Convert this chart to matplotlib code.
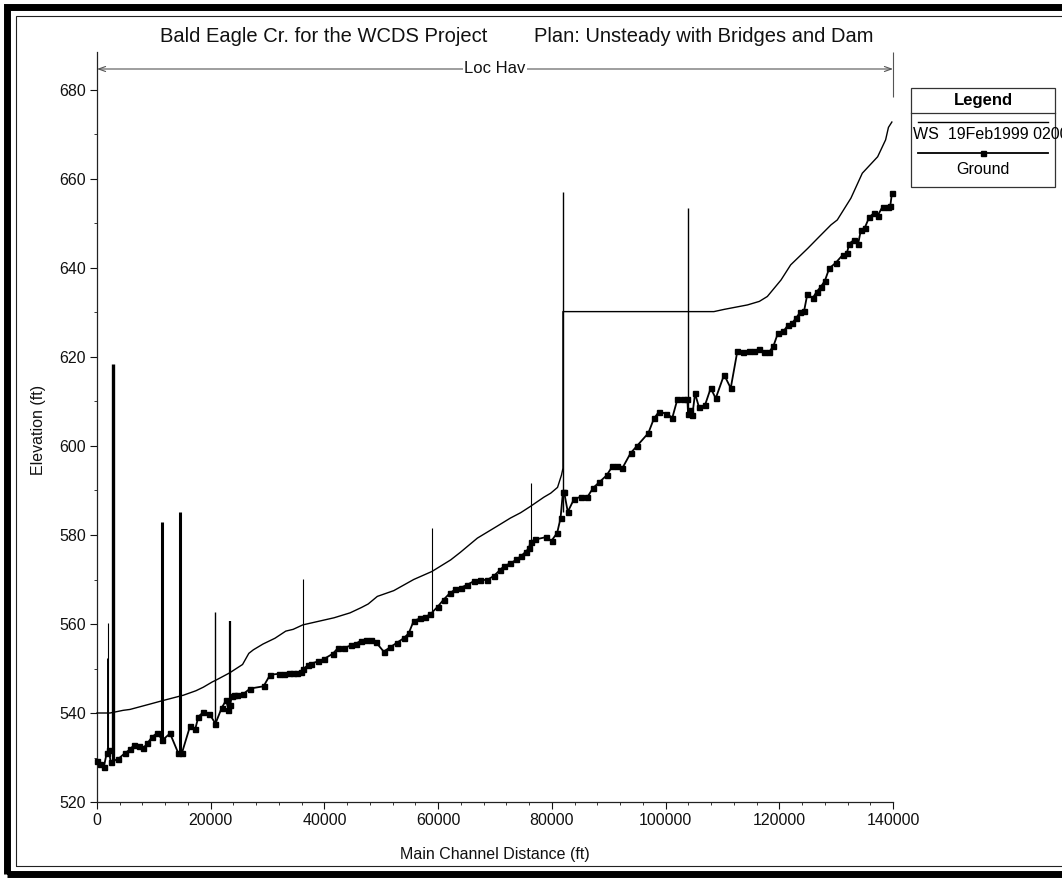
import matplotlib
matplotlib.use("Agg")
import matplotlib.pyplot as plt
from matplotlib.patches import Rectangle
from matplotlib.lines import Line2D

plt.rcParams['font.family'] = ['Liberation Sans', 'DejaVu Sans']

# ---------------- data ----------------
title_left = "Bald Eagle Cr. for the WCDS Project"
title_right = "Plan: Unsteady with Bridges and Dam"
reach_label = "Loc Hav"
x_label = "Main Channel Distance (ft)"
y_label = "Elevation (ft)"
legend_title = "Legend"
legend_labels = ["WS  19Feb1999 0200", "Ground"]

x_ticks = [0, 20000, 40000, 60000, 80000, 100000, 120000, 140000]
y_ticks = [520, 540, 560, 580, 600, 620, 640, 660, 680]

ws_x = [0, 2300, 4600, 5800, 9300, 11600, 15200, 17400, 18700, 20300,
        20800, 23300, 25600, 26700, 27500, 29200, 31300, 33200, 34500, 36200,
        41700, 44500, 46500, 47700, 49300, 52200, 55700, 58900, 62200, 63900,
        66900, 70400, 72700, 74500, 76200, 78600, 79800, 81000, 81700, 81950,
        81950, 108500, 110300, 114400, 116500, 117900, 120300, 122000, 125000, 127000,
        129100, 130200, 132600, 134600, 137300, 138700, 139200, 139800]
ws_z = [540.0, 540.0, 540.6, 540.8, 542.0, 542.8, 544.0, 545.0, 545.8, 547.0,
        547.3, 549.0, 550.9, 553.4, 554.2, 555.5, 556.8, 558.4, 558.8, 559.8,
        561.4, 562.5, 563.7, 564.5, 566.2, 567.5, 570.0, 571.8, 574.4, 576.1,
        579.3, 582.0, 583.8, 585.0, 586.4, 588.5, 589.4, 590.7, 593.5, 595.0,
        630.2, 630.2, 630.7, 631.7, 632.5, 633.6, 637.3, 640.7, 644.4, 647.0,
        649.7, 650.8, 655.7, 661.3, 665.0, 668.8, 671.6, 672.8]

ground_x = [0, 500, 1200, 1700, 2100, 2400, 3750, 4930, 5810, 6570,
            7450, 8150, 8860, 9740, 10620, 11500, 12850, 14320, 14910, 16380,
            17260, 17840, 18720, 19780, 20830, 21950, 22720, 23120, 23420, 23700,
            24100, 24600, 25650, 26940, 29290, 30460, 31930, 32810, 33690, 34500,
            35160, 35800, 36230, 37100, 37680, 38840, 40000, 41450, 42320, 43480,
            44640, 45510, 46380, 47250, 48120, 49000, 50420, 51590, 52770, 53940,
            54820, 55700, 56880, 57760, 58640, 59930, 60980, 62040, 63040, 64040,
            65100, 66380, 67440, 68620, 69790, 70840, 71670, 72720, 73780, 74610,
            75370, 75950, 76250, 77120, 78890, 79940, 80940, 81530, 81950, 82150,
            82800, 83870, 85050, 86230, 87280, 88280, 89630, 90630, 91510, 92390,
            93850, 95030, 96970, 97960, 98840, 100020, 101200, 102080, 103130, 103840,
            103950, 104300, 104720, 105180, 105880, 106940, 107940, 108820, 110290, 111460,
            112640, 113700, 114690, 115570, 116450, 117330, 118210, 118980, 119800, 120740,
            121550, 122320, 122900, 123660, 124370, 124950, 125850, 126600, 127310, 128010,
            128780, 129950, 131130, 131890, 132300, 133170, 133880, 134350, 135060, 135810,
            136700, 137280, 138170, 139050, 139520, 139810]
ground_z = [529.2, 528.6, 527.8, 531.0, 531.6, 529.0, 529.7, 531.0, 531.8, 532.9,
            532.5, 532.1, 533.2, 534.7, 535.5, 533.9, 535.4, 530.9, 530.9, 537.1,
            536.3, 539.2, 540.2, 539.8, 537.6, 541.2, 542.9, 540.6, 541.7, 543.9,
            544.0, 544.0, 544.2, 545.5, 546.0, 548.6, 548.8, 548.8, 549.0, 549.1,
            549.1, 549.3, 549.9, 550.7, 551.1, 551.6, 552.2, 553.3, 554.5, 554.6,
            555.2, 555.6, 556.2, 556.4, 556.3, 556.0, 553.8, 554.8, 555.8, 556.8,
            557.9, 560.7, 561.3, 561.6, 562.2, 563.9, 565.5, 566.9, 567.8, 568.2,
            568.8, 569.7, 569.9, 569.9, 570.8, 572.1, 573.1, 573.6, 574.5, 575.3,
            576.2, 577.0, 578.5, 579.0, 579.5, 578.7, 580.5, 583.8, 589.7, 589.7,
            585.2, 588.0, 588.6, 588.5, 590.6, 591.8, 593.4, 595.4, 595.6, 595.0,
            598.4, 600.1, 602.9, 606.2, 607.7, 607.3, 606.4, 610.5, 610.5, 610.5,
            607.3, 608.1, 607.0, 611.8, 608.7, 609.2, 613.0, 610.7, 616.0, 613.0,
            621.4, 621.1, 621.4, 621.4, 621.7, 621.1, 621.1, 622.5, 625.5, 625.8,
            627.2, 627.7, 628.7, 630.0, 630.4, 634.2, 633.2, 634.7, 635.8, 637.1,
            639.9, 641.2, 642.9, 643.3, 645.5, 646.3, 645.5, 648.5, 649.1, 651.4,
            652.4, 651.7, 653.8, 653.8, 653.9, 656.8]

# bridges / culverts / dam drawn as vertical structure lines
bridge_x = [1750, 1950, 2750, 11480, 14670, 20750, 23400, 36150, 58950, 76250, 81950, 103900]
bridge_bottom = [531.0, 531.0, 529.0, 534.0, 531.0, 537.5, 541.0, 549.8, 562.2, 578.5, 585.2, 607.3]
bridge_top = [552.3, 560.2, 618.5, 582.9, 585.2, 562.6, 560.7, 570.2, 581.5, 591.6, 657.0, 653.4]
bridge_width = [0.7, 0.8, 2.4, 2.2, 2.2, 1.0, 1.6, 0.8, 0.8, 0.8, 1.0, 1.0]

# ---------------- figure ----------------
W, H = 1062, 880
fig = plt.figure(figsize=(W / 100, H / 100), dpi=100)
fig.patch.set_facecolor('white')


def fx(px):
    return px / W


def fy(py):
    return 1 - py / H


ax_l, ax_r, ax_t, ax_b = 97, 893, 52, 802
ax = fig.add_axes([fx(ax_l), fy(ax_b), fx(ax_r - ax_l), (ax_b - ax_t) / H])
ymin = 520
ymax = 520 + (ax_b - ax_t) / 4.45
ax.set_xlim(0, 140000)
ax.set_ylim(ymin, ymax)

for s in ['top', 'right']:
    ax.spines[s].set_visible(False)
for s in ['left', 'bottom']:
    ax.spines[s].set_linewidth(0.9)
    ax.spines[s].set_color('#222222')

ax.set_xticks(x_ticks)
ax.set_xticklabels([str(v) for v in x_ticks])
ax.set_xticks(range(0, 140001, 4000), minor=True)
ax.set_yticks(y_ticks)
ax.set_yticklabels([str(v) for v in y_ticks])
ax.set_yticks(range(520, 681, 10), minor=True)
ax.tick_params(which='major', direction='out', length=5, width=0.8, labelsize=11.5, pad=3, colors='#111111')
ax.tick_params(which='minor', direction='out', length=2.5, width=0.7, colors='#333333')

# structures
ax.vlines(bridge_x, bridge_bottom, bridge_top, colors='black', linewidths=bridge_width, zorder=3)

# water surface
ax.plot(ws_x, ws_z, color='black', lw=1.0, zorder=4, clip_on=False)
# ground
ax.plot(ground_x, ground_z, color='black', lw=1.3, marker='s', markersize=3.6,
        markerfacecolor='black', markeredgecolor='black', zorder=5, clip_on=False)

# reach annotation
reach_y = 520 + (ax_b - 69) / 4.45
ax.annotate('', xy=(0, reach_y), xytext=(140000, reach_y),
            arrowprops=dict(arrowstyle='<->,head_length=0.5,head_width=0.18', color='#555555',
                            lw=0.8, shrinkA=0, shrinkB=0), annotation_clip=False)
ax.vlines([140000], 520 + (ax_b - 97) / 4.45, ymax, colors='#555555', linewidths=0.8, clip_on=False)
ax.text(70000, reach_y, reach_label, ha='center', va='center', fontsize=12, color='#111111',
        bbox=dict(facecolor='white', edgecolor='none', pad=1.0), zorder=6)

# axis labels
ax.set_xlabel(x_label, fontsize=11.5, color='#111111')
ax.xaxis.label.set_va('center')
ax.xaxis.set_label_coords(0.5, (ax_b - 854) / (ax_b - ax_t))
ax.set_ylabel(y_label, fontsize=11.5, color='#111111')
ax.yaxis.label.set_va('center')
ax.yaxis.set_label_coords((38 - ax_l) / (ax_r - ax_l), (ax_b - 430) / (ax_b - ax_t))

# title
fig.text(fx(160), fy(36), title_left, fontsize=14.5, ha='left', va='center', color='#111111')
fig.text(fx(534), fy(36), title_right, fontsize=14.5, ha='left', va='center', color='#111111')

# legend box
lx0, lx1, ly0, ly1 = 911, 1055, 88, 187
fig.add_artist(Rectangle((fx(lx0), fy(ly1)), fx(lx1 - lx0), (ly1 - ly0) / H,
                         transform=fig.transFigure, fill=False, edgecolor='#333333', lw=0.9))
fig.add_artist(Line2D([fx(lx0), fx(lx1)], [fy(113), fy(113)], transform=fig.transFigure,
                      color='#333333', lw=0.9))
fig.text(fx(983), fy(100), legend_title, fontsize=12, fontweight='bold', ha='center', va='center')
fig.add_artist(Line2D([fx(918), fx(1048)], [fy(122), fy(122)], transform=fig.transFigure,
                      color='black', lw=1.0))
fig.text(fx(913), fy(134), legend_labels[0], fontsize=11.5, ha='left', va='center')
fig.add_artist(Line2D([fx(918), fx(983), fx(1048)], [fy(153), fy(153), fy(153)],
                      transform=fig.transFigure, color='black', lw=1.3, marker='s',
                      markersize=3.6, markevery=[1]))
fig.text(fx(983), fy(170), legend_labels[1], fontsize=11.5, ha='center', va='center')

# page frame (scanned report border)
fig.add_artist(Rectangle((fx(7), fy(874)), fx(1062 + 40), (874 - 7) / H,
                         transform=fig.transFigure, fill=False, edgecolor='black', lw=5.0))
fig.add_artist(Rectangle((fx(16), fy(866)), fx(1062 + 40), (866 - 16) / H,
                         transform=fig.transFigure, fill=False, edgecolor='#222222', lw=0.8))

fig.savefig('out.png', dpi=100, facecolor='white')
